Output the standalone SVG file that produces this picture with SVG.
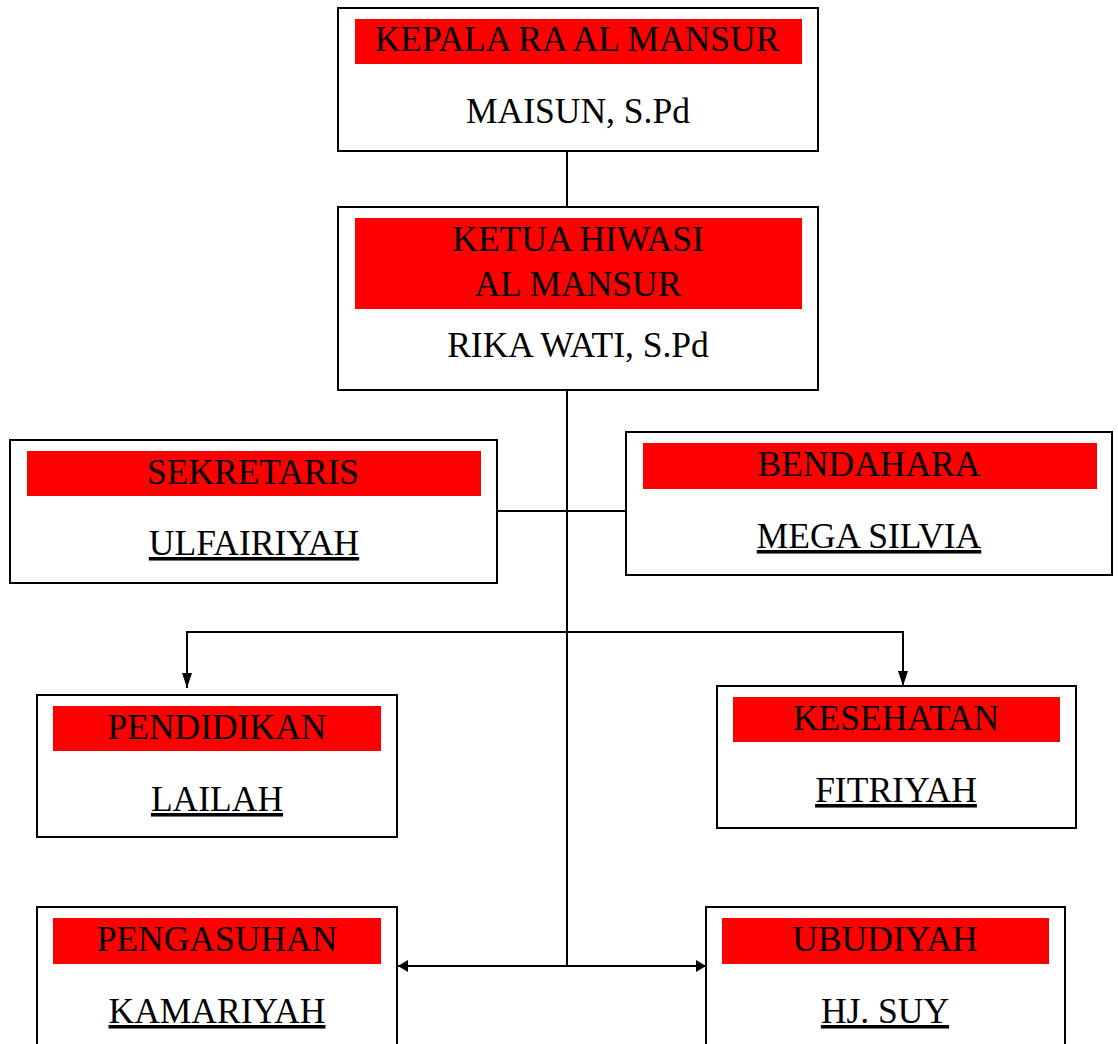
<svg xmlns="http://www.w3.org/2000/svg" width="1118" height="1044" viewBox="0 0 1118 1044">
<style>
.box{fill:#fff;stroke:#000;stroke-width:2}
.hdr{fill:#ff0000}
.t{font-family:"Liberation Serif","Times New Roman",serif;font-size:35.5px;fill:#000;text-anchor:middle}
.u{text-decoration:underline}
.c{stroke:#000;stroke-width:2;fill:none}
</style>
<defs>
<marker id="ah" viewBox="0 0 15 10" refX="15" refY="5" markerWidth="15" markerHeight="10" markerUnits="userSpaceOnUse" orient="auto-start-reverse">
<path d="M0,0 L15,5 L0,10 Z" fill="#000"/>
</marker>
<marker id="ah2" viewBox="0 0 10 12" refX="10" refY="6" markerWidth="10" markerHeight="12" markerUnits="userSpaceOnUse" orient="auto-start-reverse">
<path d="M0,0 L10,6 L0,12 Z" fill="#000"/>
</marker>
</defs>
<rect width="1118" height="1044" fill="#fff"/>
<g id="connectors">
<line class="c" x1="567" y1="151" x2="567" y2="207"/>
<line class="c" x1="567" y1="390" x2="567" y2="966"/>
<line class="c" x1="497" y1="511" x2="626" y2="511"/>
<polyline class="c" points="187,632 903,632"/>
<line class="c" x1="187" y1="631" x2="187" y2="688" marker-end="url(#ah)"/>
<line class="c" x1="903" y1="631" x2="903" y2="686" marker-end="url(#ah)"/>
<line class="c" x1="398" y1="966" x2="706" y2="966" stroke-width="3" marker-start="url(#ah2)" marker-end="url(#ah2)"/>
</g>
<g id="kepala">
<rect class="box" x="338" y="8" width="480" height="143"/>
<rect class="hdr" x="355" y="19" width="447" height="45"/>
<text class="t" x="577" y="51">KEPALA RA AL MANSUR</text>
<text class="t" x="578" y="123">MAISUN, S.Pd</text>
</g>
<g id="ketua">
<rect class="box" x="338" y="207" width="480" height="183"/>
<rect class="hdr" x="355" y="218" width="447" height="91"/>
<text class="t" x="578" y="251">KETUA HIWASI</text>
<text class="t" x="578" y="296">AL MANSUR</text>
<text class="t" x="578" y="357">RIKA WATI, S.Pd</text>
</g>
<g id="sekretaris">
<rect class="box" x="10" y="440" width="487" height="143"/>
<rect class="hdr" x="27" y="451" width="454" height="45"/>
<text class="t" x="253" y="484">SEKRETARIS</text>
<text class="t u" x="254" y="555">ULFAIRIYAH</text>
</g>
<g id="bendahara">
<rect class="box" x="626" y="432" width="486" height="143"/>
<rect class="hdr" x="643" y="443" width="454" height="46"/>
<text class="t" x="869" y="476">BENDAHARA</text>
<text class="t u" x="869" y="548">MEGA SILVIA</text>
</g>
<g id="pendidikan">
<rect class="box" x="37" y="695" width="360" height="142"/>
<rect class="hdr" x="53" y="706" width="328" height="45"/>
<text class="t" x="217" y="739">PENDIDIKAN</text>
<text class="t u" x="217" y="811">LAILAH</text>
</g>
<g id="kesehatan">
<rect class="box" x="717" y="686" width="359" height="142"/>
<rect class="hdr" x="733" y="697" width="327" height="45"/>
<text class="t" x="896" y="730">KESEHATAN</text>
<text class="t u" x="896" y="802">FITRIYAH</text>
</g>
<g id="pengasuhan">
<rect class="box" x="37" y="907" width="360" height="150"/>
<rect class="hdr" x="53" y="918" width="328" height="46"/>
<text class="t" x="217" y="951">PENGASUHAN</text>
<text class="t u" x="217" y="1023">KAMARIYAH</text>
</g>
<g id="ubudiyah">
<rect class="box" x="706" y="907" width="359" height="150"/>
<rect class="hdr" x="722" y="918" width="327" height="46"/>
<text class="t" x="885" y="951">UBUDIYAH</text>
<text class="t u" x="885" y="1023">HJ. SUY</text>
</g>
</svg>
